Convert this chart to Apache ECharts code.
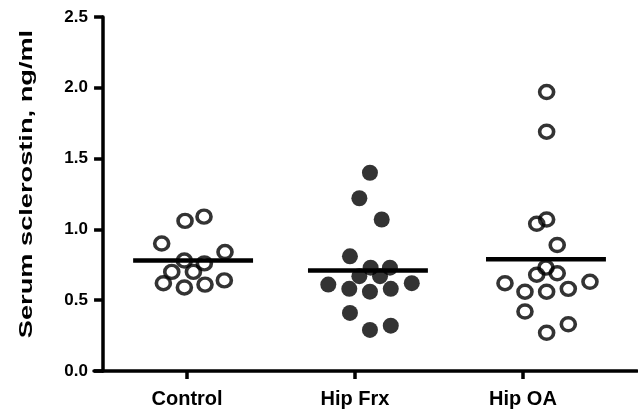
<!DOCTYPE html>
<html>
<head>
<meta charset="utf-8">
<script src="https://cdn.jsdelivr.net/npm/echarts@6/dist/echarts.min.js"></script>
<style>
  html, body { margin: 0; padding: 0; background: #fff; }
  #chart { width: 638px; height: 412px; }
</style>
</head>
<body>
<div id="chart"></div>
<script>
// ---- Data ----
const categories = ['Control', 'Hip Frx', 'Hip OA'];
const categoryTicks = [0.5, 1.5, 2.5];

const controlValues = [1.06, 1.09, 0.90, 0.84, 0.78, 0.76, 0.70, 0.70, 0.62, 0.59, 0.61, 0.64];
const controlX      = [0.488, 0.601, 0.349, 0.726, 0.484, 0.603, 0.409, 0.538, 0.359, 0.484, 0.607, 0.722];

const hipFrxValues = [1.40, 1.22, 1.07, 0.81, 0.73, 0.73, 0.67, 0.67, 0.61, 0.58, 0.56, 0.58, 0.62, 0.41, 0.29, 0.32];
const hipFrxX      = [1.589, 1.526, 1.659, 1.470, 1.593, 1.708, 1.526, 1.649, 1.341, 1.466, 1.589, 1.713, 1.838, 1.470, 1.589, 1.713];

const hipOAValues = [1.97, 1.69, 1.04, 1.07, 0.89, 0.73, 0.68, 0.69, 0.62, 0.63, 0.56, 0.56, 0.58, 0.42, 0.27, 0.33];
const hipOAX      = [2.641, 2.641, 2.582, 2.641, 2.704, 2.637, 2.582, 2.704, 2.393, 2.899, 2.512, 2.641, 2.770, 2.512, 2.641, 2.770];

const means = [0.78, 0.71, 0.79];
const meanCenters = [0.536, 1.577, 2.637];
const meanHalfWidth = 0.357;

// ---- Build ----
const pairs = (xs, ys) => ys.map((v, i) => [xs[i], v]);
const font = '"Liberation Sans", Arial, sans-serif';

const chart = echarts.init(document.getElementById('chart'), null, { renderer: 'canvas' });

const openCircle = {
  symbol: 'circle',
  symbolSize: [14, 13],
  itemStyle: { color: 'rgba(0,0,0,0)', borderColor: '#000', borderWidth: 3.5 }
};

const meanSeries = means.map((m, i) => ({
  type: 'line',
  data: [[meanCenters[i] - meanHalfWidth, m], [meanCenters[i] + meanHalfWidth, m]],
  symbol: 'none',
  lineStyle: { color: '#000', width: 4.5 },
  z: 3,
  silent: true
}));

chart.setOption({
  animation: false,
  backgroundColor: '#fff',
  grid: { left: 94, right: 1, top: 17, bottom: 41 },
  xAxis: {
    type: 'value',
    min: -0.054,
    max: 3.179,
    splitLine: { show: false },
    axisLine: { show: true, onZero: false, lineStyle: { color: '#000', width: 3.5 } },
    axisTick: { show: true, customValues: categoryTicks, length: 8, lineStyle: { color: '#000', width: 3.5 } },
    axisLabel: {
      show: true,
      customValues: categoryTicks,
      formatter: v => categories[Math.round(v - 0.5)],
      color: '#000', fontSize: 20, fontWeight: 'bold', fontFamily: font, margin: 18
    }
  },
  yAxis: {
    type: 'value',
    min: 0,
    max: 2.5,
    interval: 0.5,
    splitLine: { show: false },
    axisLine: { show: true, onZero: true, lineStyle: { color: '#000', width: 3.5 } },
    axisTick: { show: true, length: 9, lineStyle: { color: '#000', width: 3.5 } },
    axisLabel: {
      color: '#000', fontSize: 17, fontWeight: 'bold', fontFamily: font, margin: 6,
      formatter: v => Number(v).toFixed(1)
    }
  },
  graphic: [{
    type: 'text',
    x: 27,
    y: 184,
    rotation: Math.PI / 2,
    scaleX: 1.7,
    scaleY: 1.12,
    style: {
      text: 'Serum sclerostin, ng/ml',
      font: 'bold 16px ' + font,
      fill: '#000',
      align: 'center',
      verticalAlign: 'middle'
    }
  }],
  series: [
    Object.assign({ type: 'scatter', name: categories[0], data: pairs(controlX, controlValues), z: 4 }, openCircle),
    {
      type: 'scatter', name: categories[1], data: pairs(hipFrxX, hipFrxValues), z: 4,
      symbol: 'circle', symbolSize: 16, itemStyle: { color: '#000' }
    },
    Object.assign({ type: 'scatter', name: categories[2], data: pairs(hipOAX, hipOAValues), z: 4 }, openCircle),
    ...meanSeries
  ]
});
</script>
</body>
</html>
